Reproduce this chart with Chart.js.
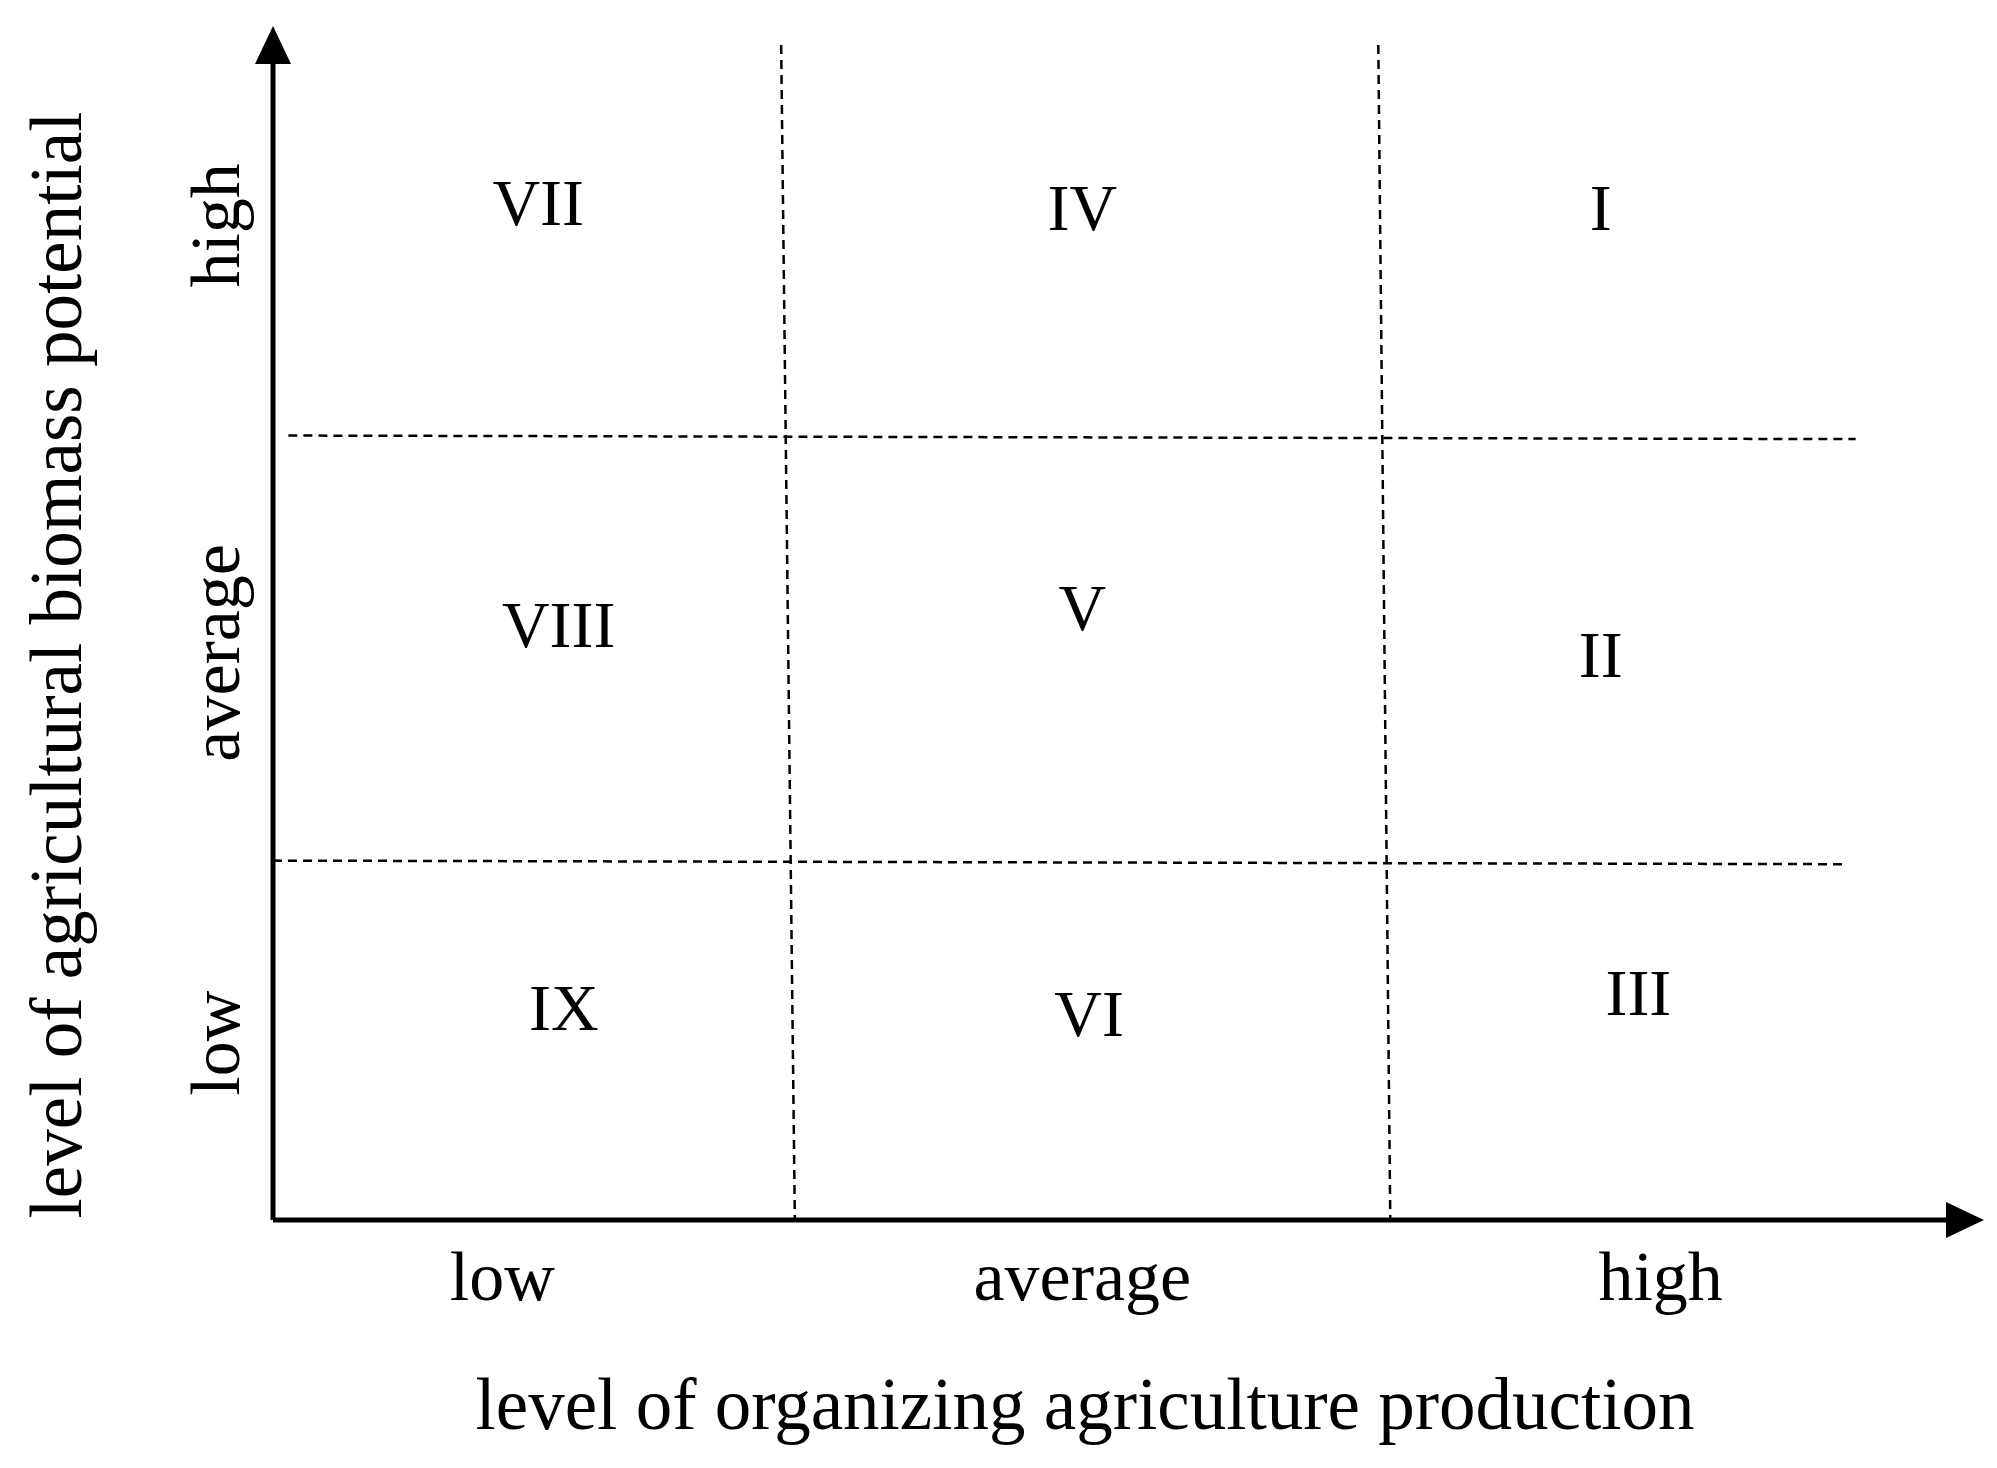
<!DOCTYPE html>
<html><head><meta charset="utf-8">
<script src="https://cdn.jsdelivr.net/npm/chart.js@4"></script>
<style>html,body{margin:0;background:#fff}#w{width:1997px;height:1468px}</style>
</head><body><div id="w"><canvas id="c"></canvas></div>
<script>
const cellLabels = ["VII","IV","I","VIII","V","II","IX","VI","III"];
const cellX = [15.5,47.3,77.6,16.7,47.3,77.6,17.0,47.7,79.8];
const cellY = [84.8,84.4,84.4,49.4,50.9,46.9,17.4,16.9,18.6];
const xTickLabels = ["low","average","high"];
const xTickPos = [13.4,47.3,81.1];
const yTickLabels = ["high","average","low"];
const yTickPos = [83.3,47.5,14.8];
const vLines = [[{x:29.7,y:98.4},{x:30.5,y:0}],[{x:64.6,y:98.4},{x:65.3,y:0}]];
const hLines = [[{x:0.9,y:65.7},{x:92.5,y:65.4}],[{x:0,y:30.1},{x:91.8,y:29.8}]];
const xTitle = "level of organizing agriculture production";
const yTitle = "level of agricultural biomass potential";
const F = '"Liberation Serif", "DejaVu Serif", serif';

const ds = [...vLines, ...hLines].map(d => ({type:'line', data:d, borderColor:'#000', borderWidth:2.5, borderDash:[9,6], pointRadius:0, fill:false}));

const textPlugin = {
  id:'txt',
  afterDraw(ch){
    const c = ch.ctx, xs = ch.scales.x, ys = ch.scales.y, a = ch.chartArea;
    c.save();
    c.fillStyle='#000'; c.strokeStyle='#000';
    c.lineWidth=5;
    const x0 = xs.getPixelForValue(0), y0 = ys.getPixelForValue(0);
    c.beginPath(); c.moveTo(x0, y0); c.lineTo(x0, a.top+30); c.stroke();
    c.beginPath(); c.moveTo(x0, y0); c.lineTo(a.right-30, y0); c.stroke();
    c.beginPath(); c.moveTo(x0, a.top); c.lineTo(x0-18, a.top+38); c.lineTo(x0+18, a.top+38); c.closePath(); c.fill();
    c.beginPath(); c.moveTo(a.right, y0); c.lineTo(a.right-38, y0-18); c.lineTo(a.right-38, y0+18); c.closePath(); c.fill();
    c.textAlign='center'; c.textBaseline='middle';
    c.font = '66px '+F;
    cellLabels.forEach((t,i)=>c.fillText(t, xs.getPixelForValue(cellX[i]), ys.getPixelForValue(cellY[i])));
    c.font = '70px '+F;
    xTickLabels.forEach((t,i)=>c.fillText(t, xs.getPixelForValue(xTickPos[i]), y0+62));
    yTickLabels.forEach((t,i)=>{ c.save(); c.translate(x0-52, ys.getPixelForValue(yTickPos[i])); c.rotate(-Math.PI/2); c.fillText(t,0,0); c.restore(); });
    c.font = '73px '+F;
    c.fillText(xTitle, 1085, 1410);
    c.save(); c.translate(62, 665); c.rotate(-Math.PI/2); c.fillText(yTitle,0,0); c.restore();
    c.restore();
  }
};

new Chart(document.getElementById('c'), {
  type:'scatter',
  data:{datasets:ds},
  options:{
    responsive:true, maintainAspectRatio:false, animation:false,
    layout:{padding:{left:273,right:13,top:26,bottom:248}},
    plugins:{legend:{display:false},tooltip:{enabled:false}},
    scales:{
      x:{type:'linear',min:0,max:100,display:false},
      y:{type:'linear',min:0,max:100,display:false}
    }
  },
  plugins:[textPlugin]
});
</script></body></html>
